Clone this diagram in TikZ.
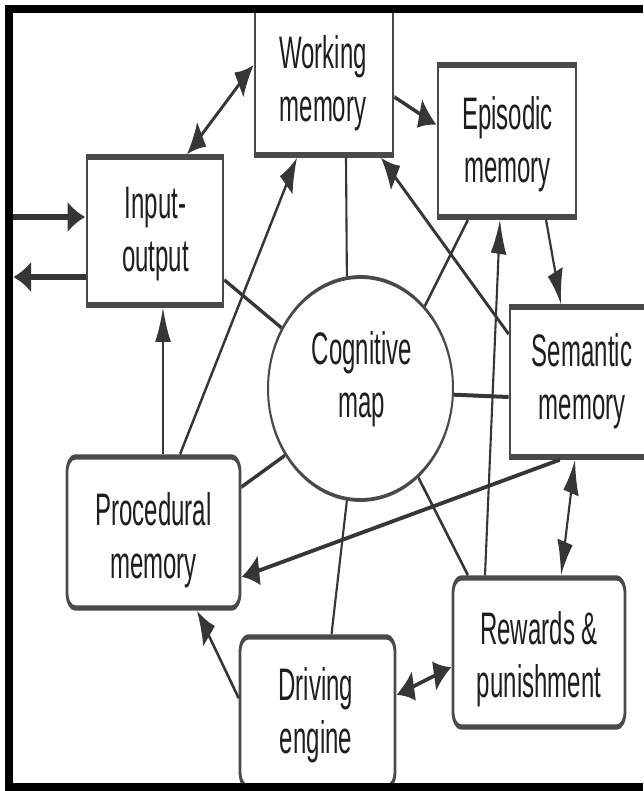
\documentclass[tikz,border=0pt]{standalone}
\usepackage{fontspec}
\setmainfont{Liberation Sans}
\usetikzlibrary{arrows.meta,shapes.geometric,calc}
\definecolor{ln}{HTML}{363636}
\definecolor{bx}{HTML}{4A4A4A}
\definecolor{tx}{HTML}{1E1E1E}
\tikzset{
  box/.style={draw=bx, line width=2.8pt, fill=white, rectangle, inner sep=0pt},
  rbox/.style={box, rounded corners=8pt},
  oval/.style={draw=bx, line width=2pt, fill=white, ellipse, inner sep=0pt},
  txt/.style={text=tx, align=center, inner sep=0pt, font=\fontsize{24}{28}\selectfont},
  conn/.style={draw=ln, line width=2.1pt},
  arr/.style={conn, -{Latex[length=18pt,width=16pt]}},
  dbl/.style={conn, {Latex[length=18pt,width=16pt]}-{Latex[length=18pt,width=16pt]}},
  iol/.style={draw=ln, line width=3pt, -{Latex[length=18pt,width=16pt]}}
}
\begin{document}
\begin{tikzpicture}[x=1pt,y=-1pt]
\useasboundingbox (0,0) rectangle (643,791);
\fill[white] (0,0) rectangle (643,791);
\begin{scope}[x=1pt, y={(0pt,-0.526316pt)}, transform canvas={yscale=1.9}]
  % boxes
  \node[box]  (wm) at (324,82)    [minimum width=138pt, minimum height=76.84pt] {};
  \node[box]  (ep) at (507,141)   [minimum width=138pt, minimum height=80pt] {};
  \node[box]  (io) at (155,231)   [minimum width=136pt, minimum height=77.89pt] {};
  \node[box]  (sm) at (582,382)   [minimum width=144pt, minimum height=78.95pt] {};
  \node[rbox] (pm) at (153.5,532.5) [minimum width=173pt, minimum height=79.47pt] {};
  \node[rbox] (de) at (317.5,712) [minimum width=155pt, minimum height=78.95pt] {};
  \node[rbox] (rp) at (539,652.5) [minimum width=172pt, minimum height=78.42pt] {};
  \node[oval] (cm) at (360.5,388.5) [minimum width=185pt, minimum height=117.37pt] {};
  % texts
  \node[txt] (wmt) at (323,83)    {Working\\memory};
  \node[txt] (ept) at (507.5,144) {Episodic\\memory};
  \node[txt] (iot) at (155.5,234) {Input-\\output};
  \node[txt] (smt) at (582,381)   {Semantic\\memory};
  \node[txt] (pmt) at (153.5,540) {Procedural\\memory};
  \node[txt] (det) at (316,715)   {Driving\\engine};
  \node[txt] (rpt) at (539,659)   {Rewards \&\\punishment};
  \node[txt] (cmt) at (362,379)   {Cognitive\\map};
  % input / output
  \coordinate (inL) at (10,217);
  \coordinate (outL) at (13,277);
  \draw[iol] (inL) -- ($(io.west)+(0,-14)$);
  \draw[iol] ($(io.west)+(0,46)$) -- (outL);
  % connectors
  \draw[dbl] ($(io.north)+(32,0)$) -- ($(wm.west)+(0,-17)$);
  \draw[arr] ($(wm.east)+(0,15)$) -- ($(ep.west)+(0,-16)$);
  \draw[conn] ($(wm.south)+(22,0)$) -- (cm.103.6);
  \draw[conn] ($(ep.south)+(-39,0)$) -- (cm.34.5);
  \draw[arr] ($(sm.west)+(0,-48)$) -- ($(wm.south)+(57,0)$);
  \draw[arr] ($(rp.north)+(-54,0)$) -- ($(ep.south)+(-7,0)$);
  \draw[arr] ($(ep.south)+(39,0)$) -- ($(sm.north)+(-21,0)$);
  \draw[conn] (cm.-2.9) -- ($(sm.west)+(0,15)$);
  \draw[arr] ($(sm.south)+(-22,0)$) -- ($(pm.east)+(0,44.5)$);
  \draw[dbl] ($(sm.south)+(-7,0)$) -- ($(rp.north)+(22,0)$);
  \draw[conn] (cm.-39.8) -- ($(rp.north)+(-71,0)$);
  \draw[conn] (cm.-103.4) -- ($(de.north)+(14,0)$);
  \draw[dbl] ($(de.east)+(0,-17)$) -- ($(rp.west)+(0,14.5)$);
  \draw[arr] ($(de.west)+(0,-14)$) -- ($(pm.south)+(43.5,0)$);
  \draw[arr] ($(pm.north)+(9.5,0)$) -- ($(io.south)+(8,0)$);
  \draw[arr] ($(pm.north)+(26.5,0)$) -- ($(wm.south)+(-27,0)$);
  \draw[conn] ($(pm.east)+(0,-45.5)$) -- (cm.205.8);
  \draw[conn] ($(io.east)+(0,49)$) -- (cm.158.4);
\end{scope}
% black frame
\fill[black] (5,5) rectangle (13,791);
\fill[black] (5,5) rectangle (643,13);
\fill[black] (5,783) rectangle (643,791);
\end{tikzpicture}
\end{document}
